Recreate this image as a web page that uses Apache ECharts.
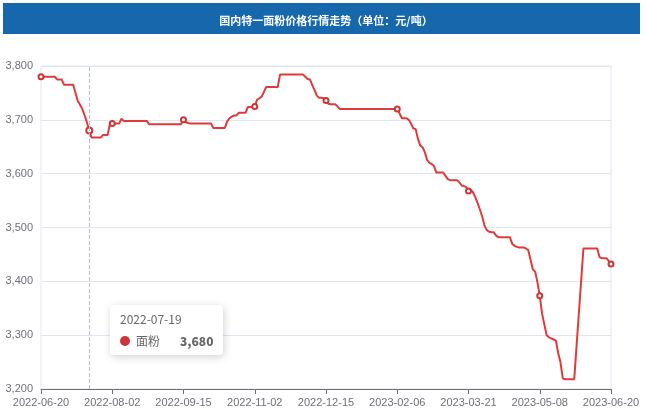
<!DOCTYPE html>
<html>
<head>
<meta charset="utf-8">
<script src="https://cdn.jsdelivr.net/npm/echarts@6/dist/echarts.min.js"></script>
<style>
html,body{margin:0;padding:0;background:#ffffff;}
#chart{width:647px;height:409px;}
</style>
</head>
<body>
<div id="chart"></div>
<script>
const titleText = '国内特一面粉价格行情走势（单位：元/吨）';
const seriesName = '面粉';

const categories = [
'2022-06-20','2022-06-21','2022-06-22','2022-06-23','2022-06-24','2022-06-27','2022-06-28','2022-06-29','2022-06-30',
'2022-07-01','2022-07-04','2022-07-05','2022-07-06','2022-07-07','2022-07-08','2022-07-11','2022-07-12','2022-07-13','2022-07-14','2022-07-15','2022-07-18','2022-07-19','2022-07-20','2022-07-21','2022-07-22','2022-07-25','2022-07-26','2022-07-27','2022-07-28','2022-07-29',
'2022-08-01','2022-08-02','2022-08-03','2022-08-04','2022-08-05','2022-08-08','2022-08-09','2022-08-10','2022-08-11','2022-08-12','2022-08-15','2022-08-16','2022-08-17','2022-08-18','2022-08-19','2022-08-22','2022-08-23','2022-08-24','2022-08-25','2022-08-26','2022-08-29','2022-08-30','2022-08-31',
'2022-09-01','2022-09-02','2022-09-05','2022-09-06','2022-09-07','2022-09-08','2022-09-09','2022-09-13','2022-09-14','2022-09-15','2022-09-16','2022-09-19','2022-09-20','2022-09-21','2022-09-22','2022-09-23','2022-09-26','2022-09-27','2022-09-28','2022-09-29','2022-09-30',
'2022-10-08','2022-10-09','2022-10-10','2022-10-11','2022-10-12','2022-10-13','2022-10-14','2022-10-17','2022-10-18','2022-10-19','2022-10-20','2022-10-21','2022-10-24','2022-10-25','2022-10-26','2022-10-27','2022-10-28','2022-10-31',
'2022-11-01','2022-11-02','2022-11-03','2022-11-04','2022-11-07','2022-11-08','2022-11-09','2022-11-10','2022-11-11','2022-11-14','2022-11-15','2022-11-16','2022-11-17','2022-11-18','2022-11-21','2022-11-22','2022-11-23','2022-11-24','2022-11-25','2022-11-28','2022-11-29','2022-11-30',
'2022-12-01','2022-12-02','2022-12-05','2022-12-06','2022-12-07','2022-12-08','2022-12-09','2022-12-12','2022-12-13','2022-12-14','2022-12-15','2022-12-16','2022-12-19','2022-12-20','2022-12-21','2022-12-22','2022-12-23','2022-12-26','2022-12-27','2022-12-28','2022-12-29','2022-12-30',
'2023-01-03','2023-01-04','2023-01-05','2023-01-06','2023-01-09','2023-01-10','2023-01-11','2023-01-12','2023-01-13','2023-01-16','2023-01-17','2023-01-18','2023-01-19','2023-01-20','2023-01-30','2023-01-31',
'2023-02-01','2023-02-02','2023-02-03','2023-02-06','2023-02-07','2023-02-08','2023-02-09','2023-02-10','2023-02-13','2023-02-14','2023-02-15','2023-02-16','2023-02-17','2023-02-20','2023-02-21','2023-02-22','2023-02-23','2023-02-24','2023-02-27','2023-02-28',
'2023-03-01','2023-03-02','2023-03-03','2023-03-06','2023-03-07','2023-03-08','2023-03-09','2023-03-10','2023-03-13','2023-03-14','2023-03-15','2023-03-16','2023-03-17','2023-03-20','2023-03-21','2023-03-22','2023-03-23','2023-03-24','2023-03-27','2023-03-28','2023-03-29','2023-03-30','2023-03-31',
'2023-04-03','2023-04-04','2023-04-06','2023-04-07','2023-04-10','2023-04-11','2023-04-12','2023-04-13','2023-04-14','2023-04-17','2023-04-18','2023-04-19','2023-04-20','2023-04-21','2023-04-23','2023-04-24','2023-04-25','2023-04-26','2023-04-27','2023-04-28',
'2023-05-04','2023-05-05','2023-05-08','2023-05-09','2023-05-10','2023-05-11','2023-05-12','2023-05-15','2023-05-16','2023-05-17','2023-05-18','2023-05-19','2023-05-22','2023-05-23','2023-05-24','2023-05-25','2023-05-26','2023-05-29','2023-05-30','2023-05-31',
'2023-06-01','2023-06-02','2023-06-05','2023-06-06','2023-06-07','2023-06-08','2023-06-09','2023-06-12','2023-06-13','2023-06-14','2023-06-15','2023-06-16','2023-06-19','2023-06-20'
];

const prices = [
3780,3780,3780,3780,3780,3780,3780,3775,3775,3775,
3765,3765,3765,3765,3765,3750,3735,3728,3720,3708,
3695,3680,3667,3667,3667,3667,3667,3672,3672,3672,
3693,3693,
3693,3693,3693,3702,3698,3698,3698,3698,3698,3698,3698,3698,3698,3698,3698,
3692,3692,3692,3692,3692,3692,3692,3692,3692,3692,3692,3692,3692,3692,3692,
3700,
3696,3694,3693,3693,3693,3693,3693,3693,3693,3693,3693,3693,
3685,3685,3685,3685,3685,3685,3697,3703,3706,3708,3708,
3713,3713,3713,3713,3724,3724,3724,3725,
3737,3740,3743,3752,3761,3761,3761,3761,3761,3761,
3784,3784,3784,3784,3784,3784,3784,3784,3784,3784,3784,
3780,3776,3775,3765,3755,3745,3741,3741,3740,3736,
3730,3729,3729,3729,3725,
3720,3720,3720,3720,3720,3720,3720,3720,3720,3720,3720,3720,3720,
3720,3720,3720,3720,3720,3720,3720,3720,3720,3720,3720,3720,3720,
3712,3703,3703,3703,3700,3693,3684,3683,3665,3652,
3649,3640,3625,3620,3618,3614,3602,3602,3602,3602,
3596,3590,3588,3588,3588,3588,3584,3578,3577,3575,3568,
3570,3565,3556,3545,3533,3520,3503,3495,3492,3491,
3491,3485,3482,3482,3482,3482,3482,3482,3470,3466,
3464,3463,3463,3463,3461,3458,3440,3422,3418,3398,3373,
3340,3320,3300,3296,3294,3292,3290,3267,3250,3220,
3218,3218,3218,3218,3218,null,null,null,
3461,3461,3461,3461,3461,3461,3461,3445,3443,3443,3443,3438,3432
];

const yMin = 3200, yMax = 3800, yStep = 100;
const hoverIndex = 21;

const chart = echarts.init(document.getElementById('chart'), null, {renderer: 'canvas'});
chart.setOption({
  animation: false,
  color: ['#cc3636'],
  textStyle: {fontFamily: '"Liberation Sans", Arial, "Noto Sans CJK SC", sans-serif'},
  graphic: [{
    type: 'rect', z: -10, silent: true,
    shape: {x: 3, y: 3, width: 637, height: 31},
    style: {fill: '#1667ab'}
  }],
  title: {
    text: titleText,
    left: 321, top: 10, textAlign: 'center',
    textStyle: {color: '#ffffff', fontSize: 11, fontWeight: 'bold', fontFamily: '"Noto Sans CJK SC", sans-serif'}
  },
  grid: {left: 41, right: 36, top: 66, bottom: 20, show: true, borderColor: '#E0E6F1', borderWidth: 1, containLabel: false},
  tooltip: {
    trigger: 'axis',
    alwaysShowContent: true,
    position: [110, 305],
    padding: [8, 10],
    borderWidth: 0,
    extraCssText: 'box-shadow: 1px 2px 8px rgba(0,0,0,0.18); border-radius: 4px;',
    axisPointer: {type: 'line', lineStyle: {type: 'dashed', color: '#B9BEC9', width: 1}},
    textStyle: {fontSize: 12, color: '#666', fontFamily: '"Noto Sans CJK SC", sans-serif'}
  },
  xAxis: {
    type: 'category',
    data: categories,
    boundaryGap: false,
    axisLine: {lineStyle: {color: '#6E7079'}},
    axisTick: {interval: 30},
    axisLabel: {interval: 30, color: '#6E7079', fontSize: 11}
  },
  yAxis: {
    type: 'value',
    min: yMin, max: yMax, interval: yStep,
    axisLine: {show: false},
    axisTick: {show: false},
    axisLabel: {color: '#6E7079', fontSize: 11},
    splitLine: {lineStyle: {color: '#E0E6F1'}}
  },
  series: [{
    type: 'line',
    name: seriesName,
    data: prices,
    symbol: 'emptyCircle',
    symbolSize: 5,
    showAllSymbol: 'auto',
    connectNulls: true,
    lineStyle: {width: 2},
    itemStyle: {color: '#cc3636'}
  }]
});
chart.dispatchAction({type: 'showTip', seriesIndex: 0, dataIndex: hoverIndex});
</script>
</body>
</html>
